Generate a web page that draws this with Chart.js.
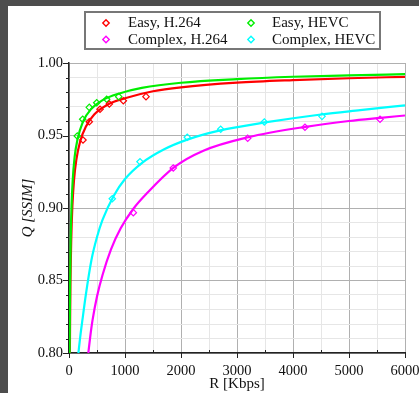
<!DOCTYPE html>
<html><head><meta charset="utf-8">
<script src="https://cdn.jsdelivr.net/npm/chart.js@4/dist/chart.umd.min.js"></script>
<style>html,body{margin:0;padding:0;background:#fff;}canvas{display:block;}</style>
</head><body>
<canvas id="c" width="419" height="393"></canvas>
<script>
// ---- data ----
const seriesNames = ['Easy, H.264', 'Easy, HEVC', 'Complex, H.264', 'Complex, HEVC'];
const seriesColors = ['#ff0000', '#00ee00', '#ff00ff', '#00ffff'];

// measured points (R in Kbps, Q in SSIM)
const easyH264R = [250, 362, 554, 720, 970, 1375];
const easyH264Q = [0.9469, 0.9595, 0.9681, 0.9717, 0.9740, 0.9768];
const easyHevcR = [148, 245, 362, 495, 673, 888];
const easyHevcQ = [0.9497, 0.9612, 0.9694, 0.9726, 0.9750, 0.9768];
const complexH264R = [1148, 1862, 3191, 4214, 5554];
const complexH264Q = [0.8968, 0.9276, 0.9481, 0.9557, 0.9612];
const complexHevcR = [773, 1268, 2112, 2709, 3488, 4518];
const complexHevcQ = [0.9064, 0.9319, 0.9488, 0.9543, 0.9593, 0.9632];

// fitted curves
const easyH264CurveR = [15, 25, 40, 60, 89, 130, 200, 300, 450, 700, 1000, 1500, 2000, 3000, 4000, 5000, 6000];
const easyH264CurveQ = [0.800, 0.8455, 0.878, 0.901, 0.919, 0.933, 0.946, 0.956, 0.9645, 0.9715, 0.9757, 0.9805, 0.9832, 0.9864, 0.9882, 0.9895, 0.9905];
const easyHevcCurveR = [11, 20, 30, 45, 66, 100, 150, 250, 400, 600, 900, 1300, 2000, 3000, 4000, 5000, 6000];
const easyHevcCurveQ = [0.800, 0.849, 0.878, 0.901, 0.919, 0.935, 0.947, 0.9596, 0.9684, 0.9744, 0.979, 0.9828, 0.9864, 0.9889, 0.9905, 0.9915, 0.9923];
const complexH264CurveR = [345, 380, 421, 500, 600, 750, 923, 1150, 1400, 1874, 2400, 3200, 4225, 5000, 5563, 6000];
const complexH264CurveQ = [0.800, 0.8115, 0.8228, 0.8390, 0.8540, 0.8715, 0.8860, 0.8995, 0.9105, 0.9280, 0.9395, 0.9488, 0.9560, 0.9600, 0.9622, 0.9638];
const complexHevcCurveR = [168, 200, 239, 300, 400, 500, 600, 800, 1000, 1300, 1700, 2100, 2700, 3500, 4500, 5200, 6000];
const complexHevcCurveQ = [0.800, 0.811, 0.8226, 0.840, 0.864, 0.880, 0.892, 0.9085, 0.920, 0.931, 0.9405, 0.947, 0.9535, 0.959, 0.9645, 0.9675, 0.9708];

const xMin = 0, xMax = 6000, xStep = 500, xMajor = 1000;
const yMin = 0.80, yMax = 1.00, yStep = 0.01;
const xTitle = 'R [Kbps]';
const yTitle = 'Q [SSIM]';

// ---- build ----
const zip = (xs, ys) => xs.map((x, i) => ({x: x, y: ys[i]}));
const pointSets = [[easyH264R, easyH264Q], [easyHevcR, easyHevcQ], [complexH264R, complexH264Q], [complexHevcR, complexHevcQ]];
const curveSets = [[easyH264CurveR, easyH264CurveQ], [easyHevcCurveR, easyHevcCurveQ], [complexH264CurveR, complexH264CurveQ], [complexHevcCurveR, complexHevcCurveQ]];

const SERIF = "'Liberation Serif', 'Times New Roman', serif";
const datasets = [];
pointSets.forEach((s, i) => datasets.push({
  label: seriesNames[i], data: zip(s[0], s[1]), showLine: false,
  pointStyle: 'rectRot', pointRadius: 3.2, pointBorderWidth: 1.2,
  borderColor: seriesColors[i], pointBackgroundColor: 'rgba(255,255,255,0)', backgroundColor: 'rgba(255,255,255,0)'
}));
[1, 0, 3, 2].forEach(i => datasets.push({
  label: seriesNames[i] + ' fit', data: zip(curveSets[i][0], curveSets[i][1]), showLine: true,
  pointRadius: 0, borderWidth: 2.2, borderColor: seriesColors[i], cubicInterpolationMode: 'monotone', fill: false
}));

const isMajorY = v => Math.round(v * 100) % 5 === 0;
const isMajorX = v => Math.round(v) % xMajor === 0;

const framePlugin = {
  id: 'frame',
  beforeDraw(chart) {
    const ctx = chart.ctx;
    ctx.save();
    ctx.fillStyle = '#4d4d4d';
    ctx.fillRect(0, 0, chart.width, 6);
    ctx.fillRect(0, 0, 8, chart.height);
    ctx.restore();
  },
  beforeDatasetsDraw(chart) {
    const ctx = chart.ctx, a = chart.chartArea, sx = chart.scales.x, sy = chart.scales.y;
    ctx.save();
    ctx.strokeStyle = '#222'; ctx.lineWidth = 1;
    ctx.beginPath();
    sx.ticks.forEach(t => {
      const px = Math.round(sx.getPixelForValue(t.value)) + 0.5;
      if (isMajorX(t.value)) { ctx.moveTo(px, a.bottom); ctx.lineTo(px, a.bottom + 5); }
      else { ctx.moveTo(px, a.bottom - 3); ctx.lineTo(px, a.bottom); }
    });
    sy.ticks.forEach(t => {
      const py = Math.round(sy.getPixelForValue(t.value)) + 0.5;
      const len = isMajorY(t.value) ? 6 : 3;
      ctx.moveTo(a.left - len, py); ctx.lineTo(a.left, py);
    });
    ctx.stroke();
    ctx.restore();
  },
  afterDraw(chart) {
    const ctx = chart.ctx;
    ctx.save();
    ctx.fillStyle = '#fff';
    ctx.fillRect(85, 12, 295, 37);
    ctx.strokeStyle = '#777'; ctx.lineWidth = 2;
    ctx.strokeRect(85, 12, 295, 37);
    const colX = [106, 251], textX = [128, 272], rowY = [23, 39.5];
    ctx.font = '15px ' + SERIF;
    ctx.textBaseline = 'middle';
    ctx.textAlign = 'left';
    seriesNames.forEach((name, i) => {
      const c = i % 2, r = Math.floor(i / 2);
      const mx = colX[c], my = rowY[r], d = 3.2;
      ctx.beginPath();
      ctx.moveTo(mx, my - d); ctx.lineTo(mx + d, my); ctx.lineTo(mx, my + d); ctx.lineTo(mx - d, my); ctx.closePath();
      ctx.strokeStyle = seriesColors[i]; ctx.lineWidth = 1.4; ctx.stroke();
      ctx.fillStyle = '#111';
      ctx.fillText(name, textX[c], my + 0.5);
    });
    ctx.restore();
  }
};

new Chart(document.getElementById('c'), {
  type: 'scatter',
  data: {datasets: datasets},
  plugins: [framePlugin],
  options: {
    responsive: false, animation: false, devicePixelRatio: 1, events: [],
    layout: {padding: {left: 0, top: 63, right: 14, bottom: 0}},
    plugins: {legend: {display: false}, tooltip: {enabled: false}},
    scales: {
      x: {
        type: 'linear', min: xMin, max: xMax,
        afterFit: s => { s.height = 40; s.paddingLeft = 0; s.paddingRight = 0; },
        ticks: {stepSize: xStep, autoSkip: false, maxRotation: 0, padding: 9, color: '#111',
          font: {family: SERIF, size: 14.5},
          callback: v => isMajorX(v) ? String(Math.round(v)) : ''},
        grid: {drawTicks: false, color: c => isMajorX(c.tick.value) ? '#b0b0b0' : '#e6e6e6', lineWidth: 1},
        border: {color: '#222', width: 1.5},
        title: {display: true, text: xTitle, color: '#111', font: {family: SERIF, size: 15}, padding: {top: 0, bottom: 0}}
      },
      y: {
        type: 'linear', min: yMin, max: yMax,
        afterFit: s => { s.width = 69; },
        ticks: {stepSize: yStep, autoSkip: false, padding: 6, color: '#111',
          font: {family: SERIF, size: 14.5},
          callback: v => isMajorY(v) ? (Math.round(v * 100) / 100).toFixed(2) : ''},
        grid: {drawTicks: false, color: c => isMajorY(c.tick.value) ? '#b0b0b0' : '#e6e6e6', lineWidth: 1},
        border: {color: '#222', width: 1.5},
        title: {display: true, text: yTitle, color: '#111', font: {family: SERIF, size: 15, style: 'italic'}, padding: {top: 19, bottom: 0}}
      }
    }
  }
});
</script>
</body></html>
